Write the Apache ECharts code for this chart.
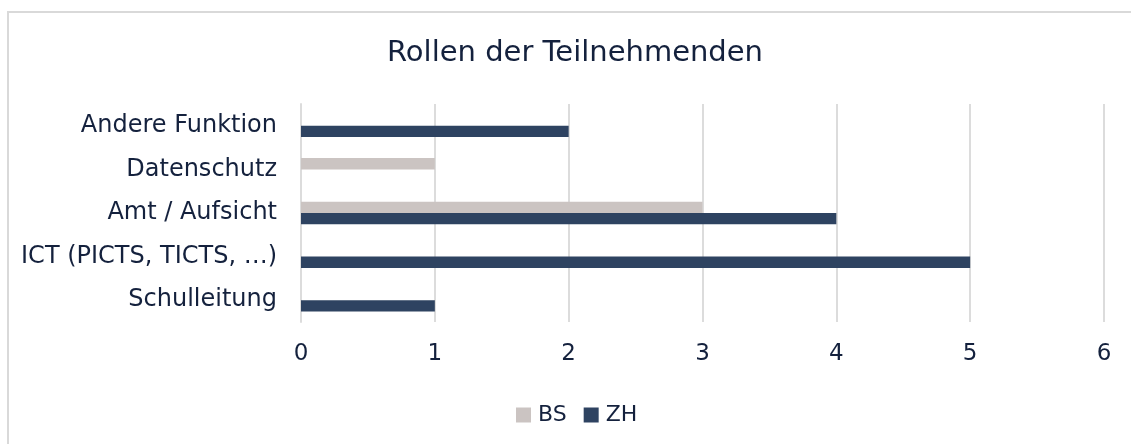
<!DOCTYPE html>
<html><head><meta charset="utf-8">
<script src="https://cdn.jsdelivr.net/npm/echarts@6/dist/echarts.min.js"></script>
<style>html,body{margin:0;padding:0;background:#fff}#c{width:1131px;height:444px}</style>
</head><body><div id="c"></div>
<script>
const categories = ['Schulleitung', 'ICT (PICTS, TICTS, …)', 'Amt / Aufsicht', 'Datenschutz', 'Andere Funktion'];
const bsValues = [0, 0, 3, 1, 0];
const zhValues = [1, 5, 4, 0, 2];
const xTicks = [0, 1, 2, 3, 4, 5, 6];
const txt = '#14213d';
const font = 'DejaVu Sans';
const chart = echarts.init(document.getElementById('c'));
chart.setOption({
  animation: false,
  textStyle: { fontFamily: font },
  title: { text: 'Rollen der Teilnehmenden', left: 387, top: 39, padding: 0, textStyle: { fontFamily: font, fontSize: 29, fontWeight: 'normal', color: txt } },
  legend: { top: 399, left: 511, itemWidth: 15, itemHeight: 15, itemGap: 17, icon: 'rect',
    textStyle: { fontFamily: font, fontSize: 22, color: txt, padding: [0,0,0,2] }, data: ['BS', 'ZH'] },
  grid: { left: 301, right: 27, top: 104, bottom: 122, containLabel: false },
  xAxis: { type: 'value', min: xTicks[0], max: xTicks[xTicks.length-1], interval: 1,
    axisLine: { show: false }, axisTick: { show: false },
    splitLine: { lineStyle: { color: '#dcdcdc', width: 2 } },
    axisLabel: { fontFamily: font, fontSize: 23, color: txt, margin: 21 } },
  yAxis: { type: 'category', data: categories, axisTick: { show: false },
    axisLine: { show: true, lineStyle: { color: '#dcdcdc', width: 2 } },
    axisLabel: { fontFamily: font, fontSize: 24, color: txt, margin: 24 } },
  series: [
    { name: 'BS', type: 'bar', data: bsValues, barWidth: 11.3, barGap: '0%', itemStyle: { color: '#cbc4c2' } },
    { name: 'ZH', type: 'bar', data: zhValues, barWidth: 11.3, barGap: '0%', itemStyle: { color: '#2e4361' } }
  ],
  graphic: [{ type: 'rect', shape: { x: 8, y: 12, width: 1300, height: 600 }, style: { fill: 'none', stroke: '#d9d9d9', lineWidth: 2 }, z: -1 }]
});
</script></body></html>
